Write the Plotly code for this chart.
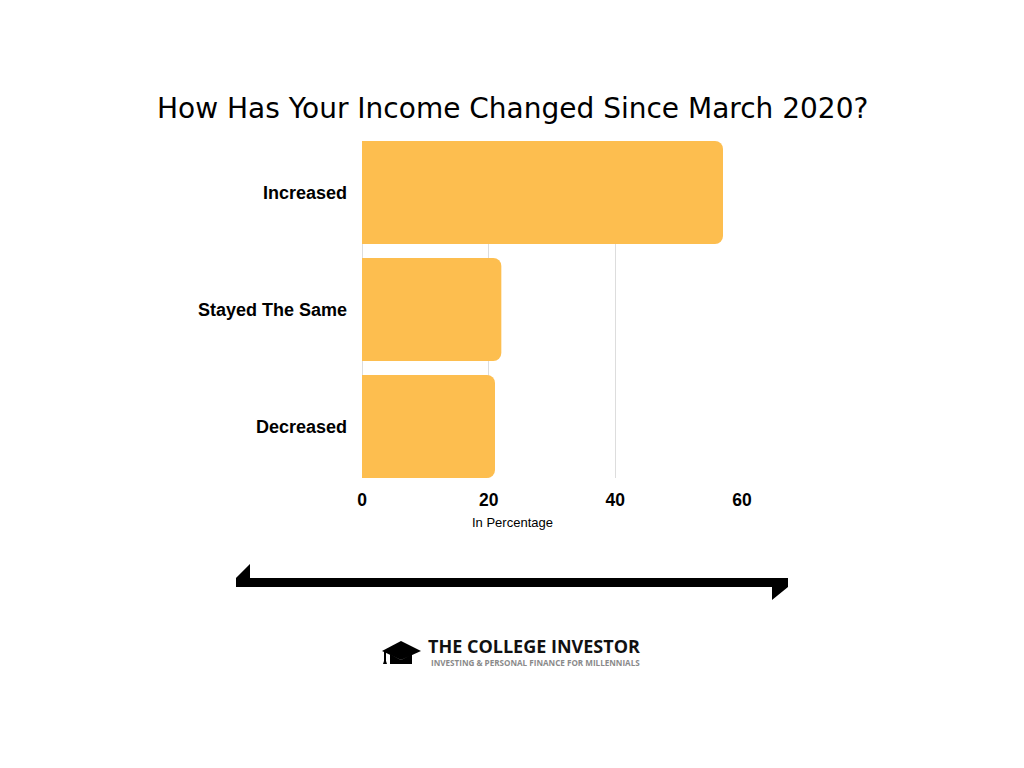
import plotly.graph_objects as go

categories = ["Increased", "Stayed The Same", "Decreased"]
values = [57, 22, 21]
tick_vals = [0, 20, 40, 60]
tick_text = ["0", "20", "40", "60"]

title_text = "How Has Your Income Changed Since March 2020?"
axis_title = "In Percentage"
brand = "THE COLLEGE INVESTOR"
tagline = "INVESTING &amp; PERSONAL FINANCE FOR MILLENNIALS"

# page body has an 8px margin; work in screen pixels and shift
OFF = 8
W, H = 1024, 768
L, R, T, B = 362 - OFF, 282 + OFF, 141 - OFF, 290 + OFF
PW, PH = W - L - R, H - T - B


def px(x):
    return (x - OFF - L) / PW


def py(y):
    return (H - B - (y - OFF)) / PH


fig = go.Figure()
fig.add_trace(go.Bar(
    x=values, y=categories, orientation="h",
    marker=dict(color="#FDBE4F", line=dict(width=0)),
    hoverinfo="x+y",
))

fig.update_layout(
    width=W, height=H,
    margin=dict(l=L, r=R, t=T, b=B, pad=0),
    paper_bgcolor="white", plot_bgcolor="white",
    showlegend=False,
    bargap=0.12,
    barcornerradius=8,
    font=dict(family="Liberation Sans, Arial, sans-serif", color="#000"),
    xaxis=dict(
        range=[0, 60], tickvals=tick_vals, ticktext=tick_text,
        showgrid=True, gridcolor="#DDDDDD", gridwidth=1,
        zeroline=True, zerolinecolor="#DDDDDD", zerolinewidth=1,
        showline=False, ticks="", ticklabelstandoff=9,
        tickfont=dict(size=17.5, family="Liberation Sans, Arial, sans-serif", color="#000", weight="bold"),
    ),
    yaxis=dict(
        autorange=False, range=[2.44, -0.44],
        categoryorder="array", categoryarray=categories,
        showgrid=False, zeroline=False, showline=False, ticks="",
        ticklabelstandoff=14,
        tickfont=dict(size=18, family="Liberation Sans, Arial, sans-serif", color="#000", weight="bold"),
    ),
)

annotations = [
    dict(text=title_text, x=512, y=108, showarrow=False,
         font=dict(size=28, family="DejaVu Sans, sans-serif", color="#000")),
    dict(text=axis_title, x=512, y=522, showarrow=False,
         font=dict(size=13, family="Liberation Sans, Arial, sans-serif", color="#000")),
    dict(text="<b>" + brand + "</b>", x=426, y=646, xanchor="left", showarrow=False,
         font=dict(size=18, family="Open Sans, Liberation Sans, sans-serif", color="#111")),
    dict(text="<b>" + tagline + "</b>", x=429, y=662, xanchor="left", showarrow=False,
         font=dict(size=8.1, family="Open Sans, Liberation Sans, sans-serif", color="#8A8A8A")),
]
for a in annotations:
    a["xref"] = "paper"
    a["yref"] = "paper"
    a["x"] = px(a["x"])
    a["y"] = py(a["y"])
    a.setdefault("yanchor", "middle")
    fig.add_annotation(**a)


def path(points):
    s = "M " + " L ".join(f"{px(x):.5f},{py(y):.5f}" for x, y in points) + " Z"
    return s


arrow = [(236, 578), (250, 564), (250, 578), (788, 578), (788, 587),
         (772, 600), (772, 587), (236, 587)]
fig.add_shape(type="path", path=path(arrow), xref="paper", yref="paper",
              fillcolor="#000", line=dict(width=0))

cap_top = [(382, 651), (401, 641), (421, 651), (401, 660)]
cap_body = [(390, 654), (401, 660), (412, 654), (412, 664), (390, 664)]
tassel = [(384, 651), (386, 651), (386, 661), (387, 664), (383, 664), (384, 661)]
for pts in (cap_top, cap_body, tassel):
    fig.add_shape(type="path", path=path(pts), xref="paper", yref="paper",
                  fillcolor="#000", line=dict(width=0))

fig.write_html("out.html")
